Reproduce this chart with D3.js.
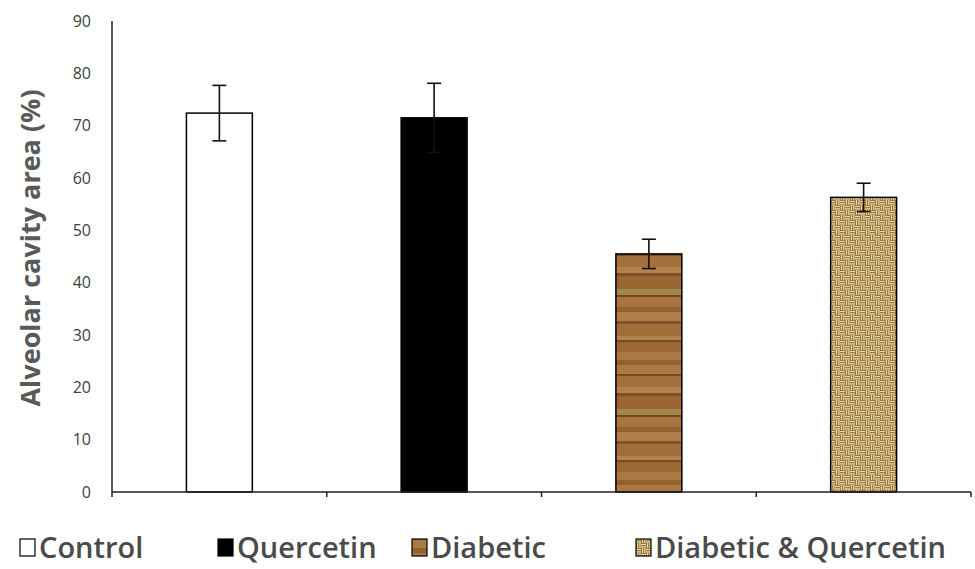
<!DOCTYPE html>
<html>
<head>
<meta charset="utf-8">
<script src="https://cdn.jsdelivr.net/npm/d3@7"></script>
<style>
  body { margin: 0; background: #fff; }
  svg { display: block; font-family: "Open Sans", sans-serif; }
</style>
</head>
<body>
<div id="chart"></div>
<script>
const categories = ["Control", "Quercetin", "Diabetic", "Diabetic & Quercetin"]
const means = [72.4, 71.5, 45.5, 56.3]
const errors = [5.3, 6.6, 2.8, 2.7]
const yTicks = [0, 10, 20, 30, 40, 50, 60, 70, 80, 90]
const fills = ["#ffffff", "#000000", "url(#wood)", "url(#burlap)"]

const width = 975
const height = 569
const margin = { top: 21, right: 4, bottom: 77, left: 112 }

const svg = d3.select("#chart")
  .append("svg")
  .attr("width", width)
  .attr("height", height)

// Textures
const defs = svg.append("defs")

const wood = defs.append("pattern")
  .attr("id", "wood")
  .attr("patternUnits", "userSpaceOnUse")
  .attr("width", 80)
  .attr("height", 120)
wood.append("rect").attr("width", 80).attr("height", 120).attr("fill", "#a06a36")
const woodStripes = [
  [0, 5, "#94602e"], [5, 9, "#ab7843"], [14, 2, "#784a22"], [16, 11, "#a4703b"],
  [27, 6, "#b4824c"], [33, 3, "#7f5026"], [36, 13, "#9c6633"], [49, 6, "#a3854e"],
  [55, 2, "#74481f"], [57, 10, "#a87440"], [67, 5, "#96622f"], [72, 9, "#b07e48"],
  [81, 3, "#82522a"], [84, 12, "#a26d39"], [96, 4, "#b28450"], [100, 2, "#7a4b22"],
  [102, 10, "#9e6834"], [112, 8, "#ab7944"]
]
woodStripes.forEach(([y, h, c]) => {
  wood.append("rect").attr("x", 0).attr("y", y).attr("width", 80).attr("height", h).attr("fill", c)
})

const burlap = defs.append("pattern")
  .attr("id", "burlap")
  .attr("patternUnits", "userSpaceOnUse")
  .attr("width", 10)
  .attr("height", 10)
burlap.append("rect").attr("width", 10).attr("height", 10).attr("fill", "#80602a")
const weave = [
  [0, 0.8, 5, 1.4], [0, 3.2, 5, 1.4],
  [5.8, 0, 1.4, 5], [8.2, 0, 1.4, 5],
  [0.8, 5, 1.4, 5], [3.2, 5, 1.4, 5],
  [5, 5.8, 5, 1.4], [5, 8.2, 5, 1.4]
]
weave.forEach(([x, y, w, h]) => {
  burlap.append("rect").attr("x", x).attr("y", y).attr("width", w).attr("height", h).attr("fill", "#ecd8a0")
})

const x = d3.scaleBand()
  .domain(categories)
  .range([margin.left, width - margin.right])
  .paddingInner(0.693)
  .paddingOuter(0.3465)

const y = d3.scaleLinear()
  .domain([0, 90])
  .range([height - margin.bottom, margin.top])

// Y tick labels (no tick marks)
svg.selectAll(".ytick")
  .data(yTicks)
  .enter()
  .append("text")
  .attr("class", "ytick")
  .attr("x", 91)
  .attr("y", d => y(d))
  .attr("dy", "0.35em")
  .attr("text-anchor", "end")
  .attr("fill", "#404040")
  .attr("font-size", "16px")
  .text(d => d)

// Bars
svg.selectAll(".bar")
  .data(categories)
  .enter()
  .append("rect")
  .attr("class", "bar")
  .attr("x", d => x(d))
  .attr("y", (d, i) => y(means[i]))
  .attr("width", x.bandwidth())
  .attr("height", (d, i) => y(0) - y(means[i]))
  .attr("fill", (d, i) => fills[i])
  .attr("stroke", "#000")
  .attr("stroke-width", 1.5)

// Error bars
const cap = 7
categories.forEach((c, i) => {
  const cx = x(c) + x.bandwidth() / 2
  const g = svg.append("g").attr("stroke", "#111").attr("stroke-width", 1.6)
  g.append("line").attr("x1", cx).attr("x2", cx).attr("y1", y(means[i] + errors[i])).attr("y2", y(means[i] - errors[i]))
  g.append("line").attr("x1", cx - cap).attr("x2", cx + cap).attr("y1", y(means[i] + errors[i])).attr("y2", y(means[i] + errors[i]))
  g.append("line").attr("x1", cx - cap).attr("x2", cx + cap).attr("y1", y(means[i] - errors[i])).attr("y2", y(means[i] - errors[i]))
})

// Axes
const axisColor = "#222"
svg.append("line")
  .attr("x1", margin.left).attr("x2", margin.left)
  .attr("y1", y(90)).attr("y2", y(0) + 5)
  .attr("stroke", axisColor).attr("stroke-width", 1.5)
svg.append("line")
  .attr("x1", margin.left).attr("x2", width - margin.right)
  .attr("y1", y(0)).attr("y2", y(0))
  .attr("stroke", axisColor).attr("stroke-width", 1.5)

const boundaries = d3.range(categories.length + 1).map(i => margin.left + i * x.step())
svg.selectAll(".xtick")
  .data(boundaries.slice(1))
  .enter()
  .append("line")
  .attr("x1", d => d).attr("x2", d => d)
  .attr("y1", y(0)).attr("y2", y(0) + 5)
  .attr("stroke", axisColor).attr("stroke-width", 1.5)

// Y axis title
svg.append("text")
  .attr("transform", `translate(40, 248) rotate(-90)`)
  .attr("text-anchor", "middle")
  .attr("fill", "#595959")
  .attr("font-size", "27px")
  .attr("font-weight", "bold")
  .text("Alveolar cavity area (%)")

// Legend
const legendX = [20, 218, 412, 636]
const legendY = 548
const lg = svg.selectAll(".legend")
  .data(categories)
  .enter()
  .append("g")
  .attr("class", "legend")
  .attr("transform", (d, i) => `translate(${legendX[i]}, ${legendY})`)
lg.append("rect")
  .attr("x", 0).attr("y", -9)
  .attr("width", 15).attr("height", 17)
  .attr("fill", (d, i) => fills[i])
  .attr("stroke", "#000")
  .attr("stroke-width", 1.2)
lg.append("text")
  .attr("x", 19)
  .attr("dy", "0.36em")
  .attr("fill", "#4a4a4a")
  .attr("font-size", "29px")
  .attr("font-weight", 600)
  .text(d => d)
</script>
</body>
</html>
